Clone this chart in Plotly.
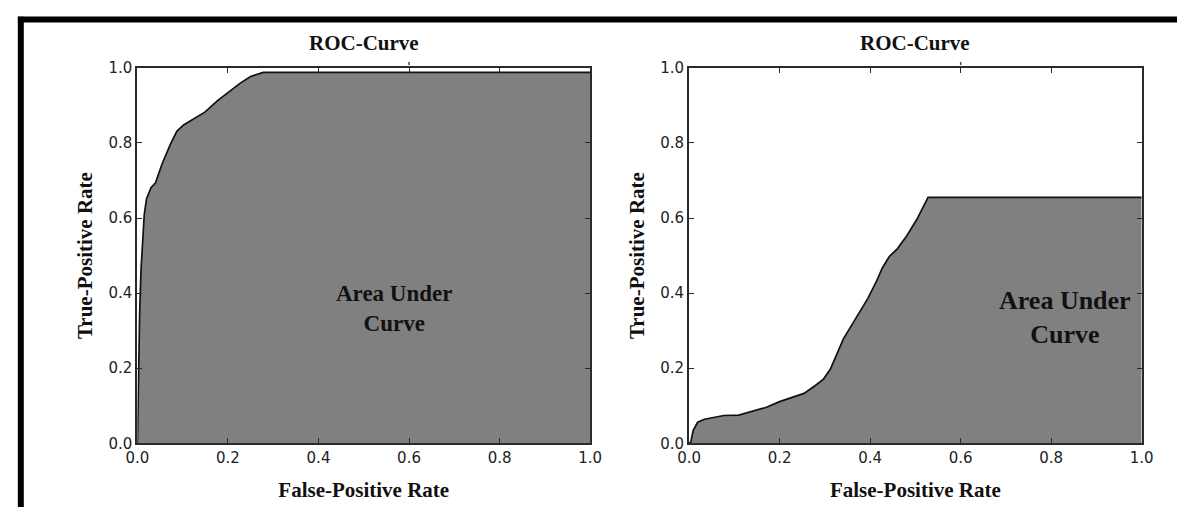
import plotly.graph_objects as go

# ---- data ----
left_fpr = [0.0, 0.002, 0.005, 0.008, 0.0115, 0.015, 0.02, 0.03, 0.04, 0.055, 0.073,
            0.087, 0.102, 0.127, 0.149, 0.177, 0.203, 0.228, 0.25, 0.278, 1.0]
left_tpr = [0.0, 0.15, 0.35, 0.463, 0.557, 0.608, 0.651, 0.681, 0.694, 0.746, 0.797,
            0.831, 0.848, 0.866, 0.882, 0.913, 0.938, 0.960, 0.977, 0.988, 0.988]

right_fpr = [0.0, 0.004, 0.009, 0.019, 0.034, 0.056, 0.077, 0.110, 0.142, 0.171, 0.200,
             0.225, 0.254, 0.279, 0.297, 0.312, 0.326, 0.341, 0.369, 0.395, 0.413,
             0.427, 0.442, 0.460, 0.481, 0.503, 0.528, 1.0]
right_tpr = [0.0, 0.004, 0.034, 0.056, 0.064, 0.070, 0.074, 0.075, 0.086, 0.096, 0.111,
             0.122, 0.133, 0.154, 0.171, 0.197, 0.236, 0.278, 0.334, 0.386, 0.429,
             0.467, 0.497, 0.518, 0.553, 0.596, 0.655, 0.655]

tick_vals = [0.0, 0.2, 0.4, 0.6, 0.8, 1.0]
tick_text = ["0.0", "0.2", "0.4", "0.6", "0.8", "1.0"]
chart_title = "ROC-Curve"
x_title = "False-Positive Rate"
y_title = "True-Positive Rate"
area_text = "Area Under<br>Curve"

# ---- layout geometry ----
W, H = 1189, 516
def px_x(p):
    return p / W
def px_y(p):
    return (H - p) / H

dom_y = [px_y(450), px_y(61)]
dom_x1 = [px_x(128), px_x(590)]
dom_x2 = [px_x(691), px_x(1153)]

SERIF = "Liberation Serif, Times New Roman, serif"
SANS = "DejaVu Sans, sans-serif"

fig = go.Figure()
fig.add_trace(go.Scatter(x=left_fpr, y=left_tpr, mode="lines", fill="tozeroy",
                         fillcolor="#808080", line=dict(color="#111111", width=1.7),
                         xaxis="x", yaxis="y", showlegend=False, hoverinfo="skip"))
fig.add_trace(go.Scatter(x=right_fpr, y=right_tpr, mode="lines", fill="tozeroy",
                         fillcolor="#808080", line=dict(color="#111111", width=1.7),
                         xaxis="x2", yaxis="y2", showlegend=False, hoverinfo="skip"))

axis_common = dict(range=[0, 1], showgrid=False, zeroline=False, showline=True,
                   linecolor="#2a2a2a", linewidth=2, mirror="ticks", ticks="inside",
                   ticklen=5, tickwidth=1, tickcolor="#2a2a2a",
                   tickvals=tick_vals, ticktext=tick_text,
                   tickfont=dict(family=SANS, size=15, color="#222222"))

lab_font = dict(family=SERIF, size=21, color="#111111", weight="bold")
xt = dict(text=x_title, font=lab_font, standoff=16)
yt = dict(text=y_title, font=lab_font, standoff=10)

fig.update_layout(
    width=W, height=H, margin=dict(l=0, r=0, t=0, b=0),
    paper_bgcolor="white", plot_bgcolor="white",
    xaxis=dict(domain=dom_x1, anchor="y", title=xt, **axis_common),
    yaxis=dict(domain=dom_y, anchor="x", title=yt, **axis_common),
    xaxis2=dict(domain=dom_x2, anchor="y2", title=xt, **axis_common),
    yaxis2=dict(domain=dom_y, anchor="x2", title=yt, **axis_common),
)

title_font = dict(family=SERIF, size=21, color="#111111", weight="bold")
for dom in (dom_x1, dom_x2):
    fig.add_annotation(text=chart_title, xref="paper", yref="paper",
                       x=(dom[0] + dom[1]) / 2, y=px_y(35), showarrow=False,
                       font=title_font, xanchor="center", yanchor="middle")

fig.add_annotation(text=area_text, xref="x", yref="y", x=0.567, y=0.36,
                   showarrow=False, align="center",
                   font=dict(family=SERIF, size=23, color="#111111", weight="bold"))
fig.add_annotation(text=area_text, xref="x2", yref="y2", x=0.83, y=0.335,
                   showarrow=False, align="center",
                   font=dict(family=SERIF, size=26, color="#111111", weight="bold"))

# small stray marks just above the top spine at 0.6
for xr in ("x", "x2"):
    fig.add_shape(type="line", xref=xr, yref="paper", x0=0.6, x1=0.6,
                  y0=px_y(58), y1=px_y(55), line=dict(color="#444444", width=1.5))

# outer frame (top and left edges of a black border)
fig.add_shape(type="line", xref="paper", yref="paper",
              x0=px_x(6), x1=1.0, y0=px_y(11), y1=px_y(11),
              line=dict(color="black", width=6))
fig.add_shape(type="line", xref="paper", yref="paper",
              x0=px_x(9), x1=px_x(9), y0=px_y(8), y1=0.0,
              line=dict(color="black", width=6))

fig.write_html("out.html")
